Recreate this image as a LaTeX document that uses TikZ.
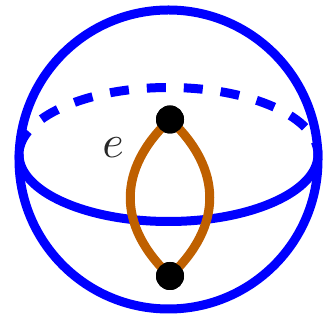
\documentclass[tikz,border=0pt]{standalone}
\begin{document}
\begin{tikzpicture}[x=1pt,y=1pt,
  sphereline/.style={draw={rgb,255:red,0;green,0;blue,255},line width=9pt},
  backline/.style={sphereline,dash pattern=on 19pt off 18pt,dash phase=6pt},
  edgeline/.style={draw={rgb,255:red,191;green,96;blue,0},line width=9pt},
  vertex/.style={circle,fill=black,minimum size=28pt,inner sep=0pt}]
\useasboundingbox (0,0) rectangle (323,320);
\coordinate (c) at (168.5,160.5);
\coordinate (ec) at (168.5,165.5);
\path[sphereline] (c) circle[radius=149.5];
\path[sphereline] (ec) ++(-149.5,0) arc[start angle=180,end angle=360,x radius=149.5,y radius=67];
\path[backline] (ec) ++(149.5,0) arc[start angle=0,end angle=180,x radius=149.5,y radius=67];
\node[vertex] (u) at (170,200.5) {};
\node[vertex] (v) at (170,44) {};
\path[edgeline] (u.center) .. controls (117,150.5) and (117,94) .. (v.center);
\path[edgeline] (u.center) .. controls (223,150.5) and (223,94) .. (v.center);
\node[vertex] at (u.center) {};
\node[vertex] at (v.center) {};
\node[text={rgb,255:red,40;green,40;blue,40},scale=4.6,inner sep=0pt] (lab) at (113,172) {$e$};
\end{tikzpicture}
\end{document}
